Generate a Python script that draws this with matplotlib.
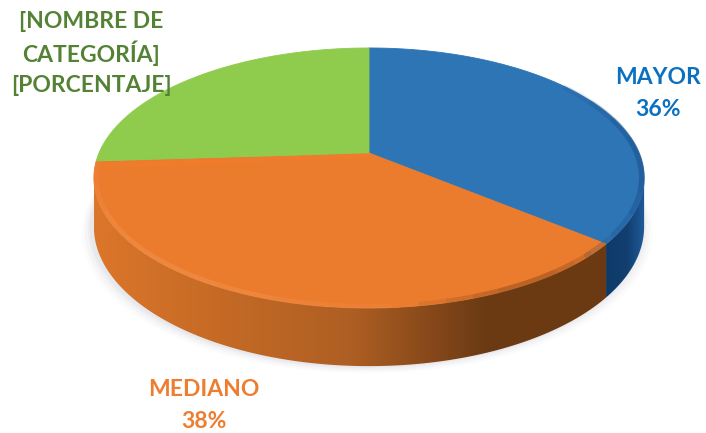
"""3D looking pie chart, drawn with a perspective mapping of the unit disc"""

import numpy as np
import matplotlib.pyplot as plt
from matplotlib.colors import LinearSegmentedColormap
from matplotlib.patches import Polygon

categories = ["MAYOR", "MEDIANO", "[NOMBRE DE\nCATEGORÍA]"]
values = [36, 38, 26]
top_colors = ["#2E75B6", "#EB7C2E", "#8FCC4E"]
label_colors = ["#0B70BF", "#ED7D31", "#548235"]

CX, CY = 369, 153
K = 0.192
A = 125.2
B = 270
DEPTH = 47


def project(angle, r=1.0):
    """angle is clockwise from the top, gives pixel x, y"""
    u = r * np.sin(angle)
    v = r * np.cos(angle)
    w = 1 + K * v
    return CX + B * u / w, CY - A * v / w


def depth_at(angle):
    return DEPTH / (1 + K * np.cos(angle))


def wedge_points(a0, a1, r=1.0):
    t = np.linspace(a0, a1, 200)
    x, y = project(t, r)
    return np.r_[CX, x], np.r_[CY, y]


def side_band(ax, a0, a1, stops, zorder):
    """extruded side, gradient image clipped to the band"""
    t = np.linspace(a0, a1, 200)
    x, y = project(t)
    d = depth_at(t)
    pts = np.c_[np.r_[x, x[::-1]], np.r_[y, (y + d)[::-1]]]
    cmap = LinearSegmentedColormap.from_list("side", stops)
    grad = np.linspace(0, 1, 256).reshape(1, -1)
    x0, x1 = x.min(), x.max()
    im = ax.imshow(grad, cmap=cmap, extent=[x0, x1, 433, 0], aspect="auto", zorder=zorder)
    im.set_clip_path(Polygon(pts, closed=True, transform=ax.transData))


def soft_arc(ax, a0, a1, r, color, lw, alpha, zorder=5):
    """arc that fades out at both ends, a few stacked plots"""
    span = a1 - a0
    for s in [0.0, 0.12, 0.24, 0.36]:
        x, y = project(np.linspace(a0 + s * span, a1 - s * span, 150), r)
        ax.plot(x, y, color=color, lw=lw, alpha=alpha, zorder=zorder, solid_capstyle="round")


fig = plt.figure(figsize=(7.06, 4.33), dpi=100)
ax = fig.add_axes([0, 0, 1, 1])
ax.set_xlim(0, 706)
ax.set_ylim(433, 0)
ax.axis("off")

fractions = np.array(values) / sum(values)
edges = np.r_[0, np.cumsum(fractions)] * 2 * np.pi

# soft shadow under the pie
t = np.linspace(0, 2 * np.pi, 400)
sx, sy = project(t)
for grow, alpha in zip([10, 7, 4, 2], [0.03, 0.05, 0.06, 0.08]):
    mx = (sx - CX) * (1 + grow / 275) + CX - 2
    my = sy + depth_at(t) + grow * 0.7
    ax.fill(mx, my, color="#8f96a8", alpha=alpha, lw=0, zorder=1)

# sides, only the front part can be seen
tangent = np.arcsin(K)
side_band(ax, np.pi / 2 + tangent, edges[1],
          [(0, "#0D3A68"), (0.55, "#123F70"), (1, "#1F5C9C")], 2)
orange_stops = [(0, "#DC762B"), (0.2, "#C96C26"), (0.5, "#AE5F23"),
                (0.66, "#86481A"), (0.76, "#6C3B14"), (1, "#6B3A13")]
side_band(ax, 3 * np.pi / 2 - tangent, edges[1], orange_stops, 3)

# top face
for i in range(len(values)):
    x, y = wedge_points(edges[i], edges[i + 1])
    ax.fill(x, y, color=top_colors[i], lw=0.6, zorder=4)

# bevel along the rim
soft_arc(ax, np.pi * 0.98, edges[2] - 0.02, 0.992, "#F59A58", 3.5, 0.13)
soft_arc(ax, edges[1], np.pi * 0.95, 0.992, "#7A4218", 3.5, 0.12)
soft_arc(ax, 0.95, edges[1] + 0.1, 0.992, "#164A80", 4, 0.14)

# lighter strip on the orange just under the green edge
x, y = project(edges[2] - 0.02, 0.96)
ax.plot([CX, x], [CY + 2, y + 3], color="#F57C2A", lw=3, alpha=0.5, zorder=5)

# labels
fs = 16.5
font = dict(family="Lato", fontsize=fs, fontweight="bold", ha="center", va="center", zorder=6)
ax.text(658, 78, categories[0], color=label_colors[0], **font)
ax.text(658, 110, f"{values[0]}%", color=label_colors[0], **font)
ax.text(204, 389, categories[1], color=label_colors[1], **font)
ax.text(204, 421, f"{values[1]}%", color=label_colors[1], **font)
ax.text(91, 22, "[NOMBRE DE", color=label_colors[2], **font)
ax.text(91, 53, "CATEGORÍA]", color=label_colors[2], **font)
ax.text(91, 86, "[PORCENTAJE]", color=label_colors[2], **font)

fig.savefig("out.png", dpi=100)
